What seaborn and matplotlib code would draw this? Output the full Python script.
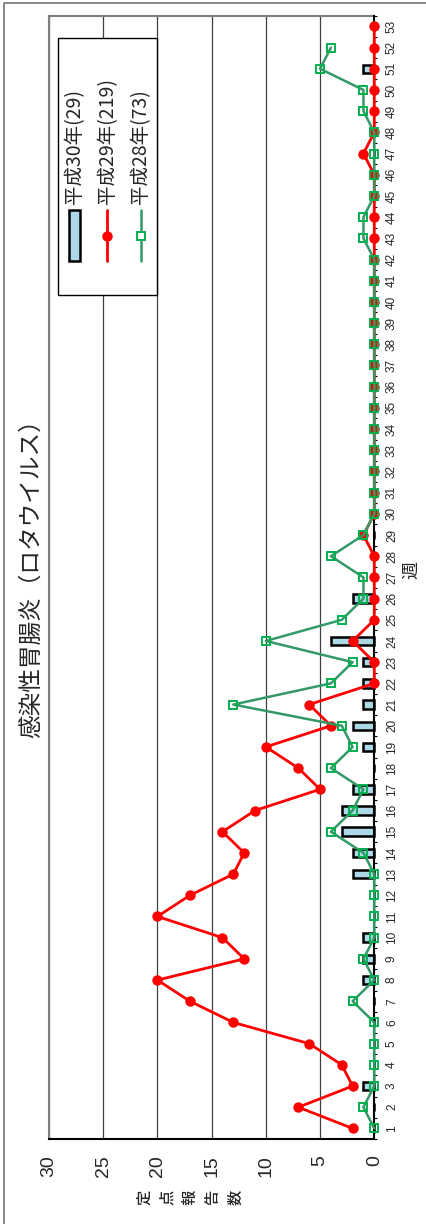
import numpy as np
import pandas as pd
import matplotlib
matplotlib.use("Agg")
import matplotlib.pyplot as plt
from matplotlib import font_manager
from matplotlib.lines import Line2D
from matplotlib.patches import Rectangle
import seaborn as sns

# ---------------- data ----------------
weeks = list(range(1, 54))
h30 = [0, 0, 1, 0, 0, 0, 0, 1, 1, 1, 0, 0, 2, 2, 3, 3, 2, 0, 1, 2, 1, 1, 1, 4, 0, 2,
       0, 0, 0, 0, 0, 0, 0, 0, 0, 0, 0, 0, 0, 0, 0, 0, 0, 0, 0, 0, 0, 0, 0, 0, 1, 0, 0]
h29 = [2, 7, 2, 3, 6, 13, 17, 20, 12, 14, 20, 17, 13, 12, 14, 11, 5, 7, 10, 4, 6, 0, 0, 2, 0, 0,
       0, 0, 1, 0, 0, 0, 0, 0, 0, 0, 0, 0, 0, 0, 0, 0, 0, 0, 0, 0, 1, 0, 0, 0, 0, 0, 0]
h28 = [0, 1, 0, 0, 0, 0, 2, 0, 1, 0, 0, 0, 0, 1, 4, 2, 1, 4, 2, 3, 13, 4, 2, 10, 3, 1,
       1, 4, 1, 0, 0, 0, 0, 0, 0, 0, 0, 0, 0, 0, 0, 0, 1, 1, 0, 0, 0, 0, 1, 1, 5, 4]
value_ticks = [0, 5, 10, 15, 20, 25, 30]
series_names = ["平成30年(29)", "平成29年(219)", "平成28年(73)"]
title = "感染性胃腸炎（ロタウイルス）"
xlab = "週"
ylab = "定点報告数"

# ---------------- style ----------------
sns.set_style("white")
names = {f.name for f in font_manager.fontManager.ttflist}
narrow = "Liberation Sans Narrow" if "Liberation Sans Narrow" in names else "Liberation Sans"
plt.rcParams["font.family"] = ["Liberation Sans", "Noto Sans CJK JP", "DejaVu Sans"]
cjk = ["Noto Sans CJK JP", "DejaVu Sans"]

W, H = 427, 1224
fig = plt.figure(figsize=(W / 100, H / 100), dpi=100)

def fx(px):
    return px / W

def fy(py):
    return 1 - py / H

ax = fig.add_axes([fx(49), fy(1139), fx(374.3) - fx(49), fy(15.8) - fy(1139)])

df30 = pd.DataFrame({"week": weeks, "val": h30})
df29 = pd.DataFrame({"week": weeks, "val": h29})
df28 = pd.DataFrame({"week": weeks[:len(h28)], "val": h28})

sns.barplot(data=df30, x="val", y="week", orient="h", native_scale=True, width=0.4,
            color="#add8e6", saturation=1, edgecolor="black", linewidth=1.8,
            ax=ax, zorder=2, clip_on=False)
sns.lineplot(data=df29, x="val", y="week", orient="y", estimator=None, color="red",
             linewidth=2, marker="o", markersize=7.5, markeredgecolor="red",
             markeredgewidth=0, ax=ax, zorder=6, clip_on=False)
sns.lineplot(data=df28, x="val", y="week", orient="y", estimator=None, color="#339966",
             linewidth=1.8, marker="s", markersize=5.5, markerfacecolor="none",
             markeredgecolor="#00B050", markeredgewidth=1.4, ax=ax, zorder=7, clip_on=False)

ax.set_xlim(30, 0)
ax.set_ylim(0.5, 53.5)
ax.set_xlabel("")
ax.set_ylabel("")
if ax.get_legend() is not None:
    ax.get_legend().remove()

# gridlines
ax.set_xticks(value_ticks)
ax.set_xticklabels([str(v) for v in value_ticks])
ax.xaxis.grid(True, color="#404040", linewidth=0.9)
ax.yaxis.grid(False)
ax.set_axisbelow(True)

ax.yaxis.tick_right()
ax.set_yticks(weeks)
ax.set_yticklabels([str(w) for w in weeks])
ax.set_yticks(np.arange(0.5, 54, 1), minor=True)
ax.tick_params(axis="y", which="major", length=0, pad=8.4, labelsize=8.5, labelrotation=90,
               right=True, left=False)
ax.tick_params(axis="y", which="minor", length=2.5, width=0.8, color="black", direction="out",
               right=True, left=False)
for lab in ax.get_yticklabels():
    lab.set_fontfamily(narrow)
    lab.set_va("center")
    lab.set_ha("left")
ax.tick_params(axis="x", length=0, pad=11.5, labelsize=14, labelrotation=90)

for side in ["top", "left"]:
    ax.spines[side].set_color("#7f7f7f")
    ax.spines[side].set_linewidth(1.5)
for side in ["bottom", "right"]:
    ax.spines[side].set_color("black")
    ax.spines[side].set_linewidth(1.5)
    ax.spines[side].set_zorder(5)

# titles / labels (rotated chart)
fig.text(fx(31.7), fy(573), title, rotation=90, ha="center", va="center",
         fontsize=17, family=cjk)
fig.text(fx(411.7), fy(570), xlab, rotation=90, ha="center", va="center",
         fontsize=13, family=cjk)
fig.text(fx(190), fy(1197), "\n".join(list(ylab)), rotation=90, ha="center", va="center",
         fontsize=11, family=cjk, fontweight="medium", linespacing=1.45)

# manual rotated legend
fig.add_artist(Rectangle((fx(57.7), fy(295)), fx(156.7) - fx(57.7), fy(38) - fy(295),
                         transform=fig.transFigure, facecolor="white", edgecolor="black",
                         linewidth=1.0, zorder=6))
fig.add_artist(Rectangle((fx(69.5), fy(261)), fx(80) - fx(69.5), fy(210) - fy(261),
                         transform=fig.transFigure, facecolor="#add8e6", edgecolor="black",
                         linewidth=1.8, zorder=7))
fig.add_artist(Line2D([fx(107.3)] * 2, [fy(261), fy(210)], transform=fig.transFigure,
                      color="red", linewidth=2, zorder=7))
fig.add_artist(Line2D([fx(107.3)], [fy(236)], transform=fig.transFigure, color="red",
                      marker="o", markersize=7.5, markeredgewidth=0, zorder=8))
fig.add_artist(Line2D([fx(140.7)] * 2, [fy(261), fy(210)], transform=fig.transFigure,
                      color="#339966", linewidth=1.8, zorder=7))
fig.add_artist(Line2D([fx(140.7)], [fy(236)], transform=fig.transFigure, color="#00B050",
                      marker="s", markersize=5.5, markerfacecolor="white",
                      markeredgewidth=1.4, zorder=8))
for cx, name in zip([75, 107.5, 140.5], series_names):
    fig.text(fx(cx), fy(204), name, rotation=90, ha="center", va="bottom",
             fontsize=14, family=cjk, zorder=9)

# outer chart border (left and top visible)
fig.add_artist(Line2D([fx(4.5), fx(4.5), fx(427)], [fy(1224), fy(2.7), fy(2.7)],
                      transform=fig.transFigure, color="#7f7f7f", linewidth=1.3))

fig.savefig("out.png", dpi=100)
